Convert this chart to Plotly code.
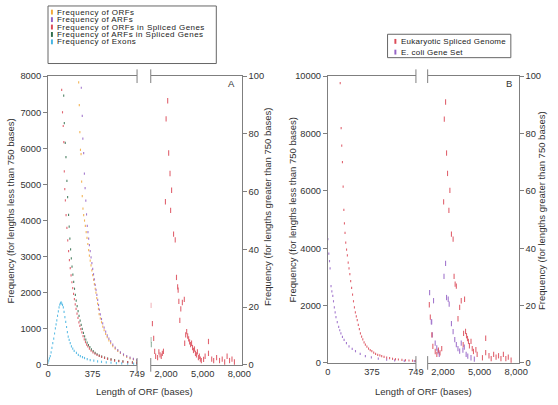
import plotly.graph_objects as go

# ---------------- DATA ----------------
# Panel A, lengths < 750 bases
orf_x = [258,263,268,273,278,283,288,294,300,307,314,321,328,335,342,348,355,362,369,376,383,390,397,403,410,417,424,430,440,450,461,472,485,498,512,527,545,565,587,609,635,662,690,718,745]
orf_y = [7830,7200,6450,5960,5840,5080,4680,4330,4150,4000,3850,3680,3520,3350,3180,3030,2890,2760,2620,2490,2360,2240,2110,2000,1850,1700,1550,1410,1290,1180,1060,960,860,770,680,600,520,450,390,330,270,220,180,150,120]

arf_x = [280,288,293,300,306,312,318,324,330,336,342,348,355,362,369,376,383,390,397,404,411,418,425,432,440,450,460,472,485,498,512,527,545,565,587,609,635,662,690,718,745]
arf_y = [7680,6900,6270,5870,5300,4900,4550,4170,3850,3680,3500,3320,3150,2980,2820,2660,2510,2370,2220,2080,1940,1800,1660,1530,1400,1270,1150,1030,920,820,730,650,560,480,410,350,290,240,200,165,130]

orf_spl_x = [115,122,128,133,137,141,146,152,159,166,173,180,187,194,201,208,215,222,229,236,244,252,260,268,276,285,295,305,315,325,335,348,362,378,395,412,430,450,475,500,530,560,595,630,670,710,745]
orf_spl_y = [7620,7000,6620,6170,5360,4870,4560,4150,3800,3450,3150,2900,2680,2480,2290,2130,1970,1820,1680,1550,1420,1300,1180,1080,990,900,800,710,630,560,510,450,395,350,310,275,250,225,195,170,145,120,105,90,75,62,52]

arf_spl_x = [132,137,145,151,159,165,173,178,184,190,196,202,209,216,223,230,237,245,253,261,270,279,288,298,308,318,329,340,352,365,380,396,413,432,452,476,502,530,560,595,630,670,710,745]
arf_spl_y = [7460,6700,6150,5760,5100,4650,4160,3830,3500,3200,2950,2720,2500,2300,2110,1940,1780,1630,1490,1360,1230,1110,1000,890,790,700,620,550,490,430,380,335,295,260,230,200,175,150,130,110,95,80,68,58]

exon_x = [0,6,12,19,26,33,40,48,55,62,68,74,80,87,93,99,105,110,116,122,129,135,142,149,156,163,170,178,187,197,208,220,239,255,272,290,307,330,355,385,417,450,490,530,575,620,670,720,745]
exon_y = [60,120,180,240,350,470,600,730,870,1010,1120,1235,1360,1480,1595,1670,1710,1730,1700,1660,1595,1470,1325,1190,1050,910,780,690,600,510,450,390,330,280,245,215,190,160,135,115,100,85,70,60,50,45,38,32,30]

# Panel A, lengths > 750 bases
orf_spl_long_x = [750,886,990,1070,1150,1310,1415,1510,1610,1700,1791,1952,2007,2136,2216,2328,2376,2456,2617,2753,2857,2950,2993,3050,3129,3209,3337,3497,3529,3610,3690,3770,3850,3930,4010,4090,4170,4250,4330,4410,4490,4570,4650,4730,4810,4890,5075,5200,5476,5476,5740,5900,6140,6380,6600,6800,7000,7200,7400,7600]
orf_spl_long_y = [20.6,14.3,9.2,4.7,3,2.5,4.5,3.5,3,4,4.7,56.5,85.2,91.5,73.4,66.3,53.5,60.5,45.3,43.3,30.3,27,25.9,22,15.4,19.4,21.6,22.7,7.5,10.4,11.5,10,9,8,7,7.5,6,5,5.5,4,3.5,4.5,2.5,3,2,1.5,1.9,3,8.1,4,2,1.5,2.5,1.5,2,1,3,1.5,2,1]
arf_spl_long_x = [750,770]
arf_spl_long_y = [8.7,7]

# Panel B, lengths < 750 bases
euk_x = [105,113,118,124,130,136,141,146,152,159,166,173,180,187,194,202,210,218,226,234,242,250,259,268,277,287,297,308,319,332,346,360,374,390,406,424,442,458,478,500,525,550,575,600,630,660,690,720,745]
euk_y = [9760,8190,7580,7000,6150,5340,4870,4540,4200,3950,3750,3500,3300,3100,2850,2620,2380,2150,1940,1760,1620,1490,1330,1180,1030,920,820,720,640,570,500,450,410,360,320,285,260,240,210,185,165,145,130,120,105,95,85,78,70]

ecoli_x = [0,8,14,19,27,34,42,48,55,62,69,80,92,101,111,124,138,158,180,207,235,275,319,370,429,500,568,650,735]
ecoli_y = [4320,3810,3550,3300,2680,2500,2340,2150,1940,1760,1600,1420,1260,1140,1030,910,805,690,580,490,410,320,240,190,150,115,90,70,60]

# Panel B, lengths > 750 bases
euk_long_x = [886,966,1094,1174,1370,1500,1630,1760,1900,2056,2112,2216,2296,2376,2488,2568,2697,2833,2913,3000,3097,3233,3369,3498,3657,3690,3770,3850,3930,4010,4090,4170,4298,4400,4500,4698,4800,5236,5500,5500,5770,5950,6150,6350,6550,6750,6950,7150,7350,7580]
euk_long_y = [20.3,16,9.8,5.8,4,3,4.5,3.5,5,56.2,85,91,73.2,66.1,53.2,60.2,44.9,43.2,30.2,27.5,26.8,15.4,19.4,21.7,6.4,10.3,22.2,11,9.5,8.5,7.5,6,7.5,5,4,4.6,3,1.8,8.6,3.6,2.5,1.5,3,2,2.5,1.5,3,1.5,2,1]
ecoli_long_x = [910,1046,1080,1126,1230,1366,1495,1600,1700,2088,2216,2296,2432,2512,2697,2833,2969,3097,3230,3369,3498,3634,3750,3900,4034,4298,4570]
ecoli_long_y = [24.5,14.3,14.3,9.8,21.7,6.9,5.2,4,3,30.2,34.7,22.8,22.2,20.5,13.7,10.9,8.1,6.4,5,4.1,6.9,4.5,5.5,3,2.4,1.8,1.3]

legend_a = ["Frequency of ORFs", "Frequency of ARFs", "Frequency of ORFs in Spliced Genes",
            "Frequency of ARFs in Spliced Genes", "Frequency of Exons"]
legend_b = ["Eukaryotic Spliced Genome", "E. coli Gene Set"]

x_short_ticks = [0, 375, 749]
x_long_ticks = [2000, 5000, 8000]
x_long_text = ["2,000", "5,000", "8,000"]

# ---------------- STYLE ----------------
W, H = 558, 405
C_ORF = "#f2a93b"
C_ARF = "#9462c6"
C_RED = "#dc4a58"
C_GRN = "#2f6e4c"
C_BLU = "#45b4e2"
AX = "#7f7f7f"
FONT = "Liberation Sans, Arial, sans-serif"

def px(x):
    return x / W

def py(y):
    return 1 - y / H

fig = go.Figure()

def add(xs, ys, color, xa, ya, size):
    fig.add_trace(go.Scatter(
        x=xs, y=ys, mode="markers", xaxis=xa, yaxis=ya, showlegend=False,
        marker=dict(symbol="line-ns", size=size, color=color,
                    line=dict(width=1.1, color=color)),
        opacity=0.85, hoverinfo="x+y"))

# Panel A
add(orf_x, orf_y, C_ORF, "x", "y", 1.6)
add(arf_x, arf_y, C_ARF, "x", "y", 1.6)
add(exon_x, exon_y, C_BLU, "x", "y", 1.6)
add(arf_spl_x, arf_spl_y, C_GRN, "x", "y", 1.6)
add(orf_spl_x, orf_spl_y, C_RED, "x", "y", 1.6)
add(arf_spl_long_x, arf_spl_long_y, C_GRN, "x2", "y2", 3.8)
add(orf_spl_long_x, orf_spl_long_y, C_RED, "x2", "y2", 3.8)
# Panel B
add(ecoli_x, ecoli_y, C_ARF, "x3", "y3", 1.6)
add(euk_x, euk_y, C_RED, "x3", "y3", 1.6)
add(ecoli_long_x, ecoli_long_y, C_ARF, "x4", "y4", 3.8)
add(euk_long_x, euk_long_y, C_RED, "x4", "y4", 3.8)

tickfont = dict(family=FONT, size=9.3, color="#333")
yA = [py(369), py(73)]
yB = [py(367), py(73)]

def xax(dom, rng, tv, tt, anchor):
    return dict(domain=dom, range=rng, tickvals=tv, ticktext=tt, showline=True, linecolor=AX,
                linewidth=1, mirror=True, ticks="", showgrid=False, zeroline=False,
                tickfont=tickfont, anchor=anchor, fixedrange=True)

def yax(dom, rng, dt, side, anchor):
    return dict(domain=dom, range=rng, dtick=dt, tick0=0, tickformat="d", showline=True,
                linecolor=AX, linewidth=1, ticks="outside", ticklen=4, tickcolor=AX, side=side,
                showgrid=False, zeroline=False, tickfont=tickfont, anchor=anchor, fixedrange=True)

fig.update_layout(
    width=W, height=H, margin=dict(l=0, r=0, t=0, b=0),
    paper_bgcolor="white", plot_bgcolor="white", showlegend=False,
    font=dict(family=FONT, size=9.3, color="#333"),
    xaxis=xax([px(46), px(137)], [0, 749], x_short_ticks, [str(v) for v in x_short_ticks], "y"),
    yaxis=yax(yA, [0, 8000], 1000, "left", "x"),
    xaxis2=xax([px(151), px(244)], [750, 8200], x_long_ticks, x_long_text, "y2"),
    yaxis2=yax(yA, [0, 100], 20, "right", "x2"),
    xaxis3=xax([px(332), px(422)], [0, 749], x_short_ticks, [str(v) for v in x_short_ticks], "y3"),
    yaxis3=yax(yB, [0, 10000], 2000, "left", "x3"),
    xaxis4=xax([px(434), px(527)], [750, 8200], x_long_ticks, x_long_text, "y4"),
    yaxis4=yax(yB, [0, 100], 20, "right", "x4"),
)

shapes = []
# axis break marks
for xb, top, bot in [(137, 73, 369), (151, 73, 369), (422, 73, 367), (434, 73, 367)]:
    for yc in (top, bot):
        shapes.append(dict(type="line", xref="paper", yref="paper", x0=px(xb), x1=px(xb),
                           y0=py(yc - 7), y1=py(yc + 7), line=dict(color=AX, width=1)))
# legend boxes
shapes.append(dict(type="rect", xref="paper", yref="paper", x0=px(46), x1=px(218),
                   y0=py(60), y1=py(1), line=dict(color="#666", width=1), fillcolor="white"))
shapes.append(dict(type="rect", xref="paper", yref="paper", x0=px(393), x1=px(519),
                   y0=py(54), y1=py(30), line=dict(color="#666", width=1), fillcolor="white"))

anns = []
def leg_item(x_mark, y_c, color, text, spacing):
    shapes.append(dict(type="rect", xref="paper", yref="paper", x0=px(x_mark - 1), x1=px(x_mark + 1),
                       y0=py(y_c + 2.5), y1=py(y_c - 2.5), line=dict(width=0), fillcolor=color))
    anns.append(dict(xref="paper", yref="paper", x=px(x_mark + 3.5), y=py(y_c),
                     text='<span style="letter-spacing:%spx">%s</span>' % (spacing, text),
                     showarrow=False, xanchor="left", yanchor="middle",
                     font=dict(family=FONT, size=8, color="#222")))

for t, c, yc in zip(legend_a, [C_ORF, C_ARF, C_RED, C_GRN, C_BLU], [7.3, 15, 22.6, 30.2, 37.8]):
    leg_item(50, yc, c, t, 0.45)
for t, c, yc in zip(legend_b, [C_RED, C_ARF], [37.3, 48.3]):
    leg_item(401, yc, c, t, 0.25)

def title(x, y, text, angle=0, size=9.5):
    anns.append(dict(xref="paper", yref="paper", x=px(x), y=py(y), text=text, showarrow=False,
                     textangle=angle, xanchor="center", yanchor="middle",
                     font=dict(family=FONT, size=size, color="#333")))

title(8, 211, "Frequency (for lengths less than 750 bases)", -90, 9.5)
title(271, 207, "Frequency (for lengths greater than 750 bases)", -90, 9.5)
title(296, 210, "Frequency (for lengths less than 750 bases)", -90, 9.5)
title(551, 211, "Frequency (for lengths greater than 750 bases)", -90, 9.5)
title(145, 396, "Length of ORF (bases)")
title(430, 396, "Length of ORF (bases)")
title(234, 80, "A")
title(517, 80, "B")

fig.update_layout(shapes=shapes, annotations=anns)
fig.write_html("out.html", config={"displayModeBar": False},
               post_script="document.body.style.margin='0';document.body.style.overflow='hidden';")
